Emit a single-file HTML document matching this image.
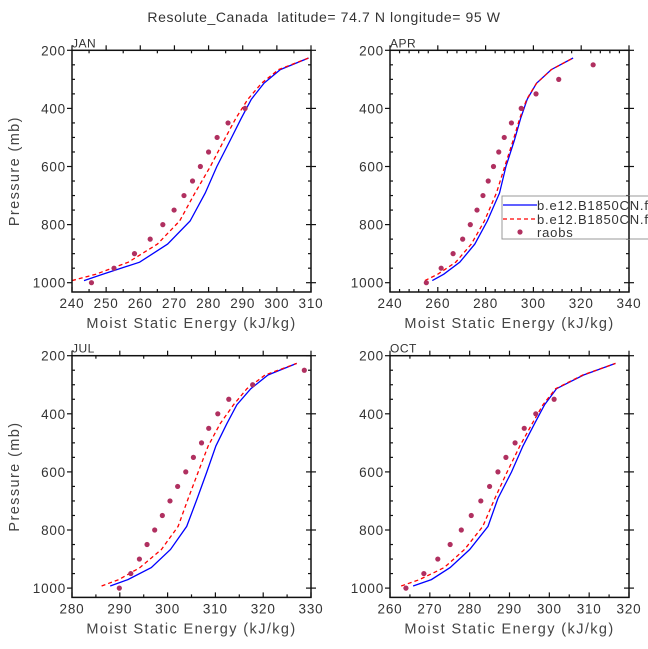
<!DOCTYPE html>
<html><head><meta charset="utf-8"><style>
html,body{margin:0;padding:0;background:#fff}
svg{display:block;font-family:"Liberation Sans",sans-serif}
</style></head><body>
<svg id="chart" width="648" height="649" viewBox="0 0 648 649" xmlns="http://www.w3.org/2000/svg">
<text x="324" y="22" text-anchor="middle" font-size="14" fill="#333" letter-spacing="0.6">Resolute_Canada&#160;&#160;latitude= 74.7 N longitude= 95 W</text>
<g id="panels"></g>
<g id="legend">
<rect x="502" y="196" width="160" height="43" fill="#fff" stroke="#999" stroke-width="1"/>
<line x1="503" y1="205" x2="537" y2="205" stroke="#0000ff" stroke-width="1.3"/>
<text x="537" y="210" font-size="13" fill="#333" letter-spacing="0.8">b.e12.B1850CN.f19</text>
<line x1="503" y1="219" x2="537" y2="219" stroke="#ff0000" stroke-width="1.3" stroke-dasharray="4,3"/>
<text x="537" y="224" font-size="13" fill="#333" letter-spacing="0.8">b.e12.B1850CN.f19</text>
<circle cx="520" cy="232" r="2.6" fill="#b03060"/>
<text x="537" y="237" font-size="13" fill="#333" letter-spacing="0.8">raobs</text>
</g>
</svg>
<script>
const modelLevels=[992.6,970.6,929.6,867.2,787.7,691.4,600.5,510.5,433.9,368.8,313.5,266.5,226.5];
const obsLevels=[1000,950,900,850,800,750,700,650,600,550,500,450,400,350,300,250];
const janBlue=[243.5,249,259.8,268,274.6,279,282.4,286.3,289.6,292.5,296.2,301,309.3];
const janRed=[240,247,256.5,265,271.5,276,280.5,284.5,288,291.5,295.5,300.5,309.3];
const janObs=[245.7,252.3,258.3,262.9,266.6,269.9,272.8,275.3,277.6,280,282.5,285.7,290.7];
const aprBlue=[257.7,262.5,269.2,275.5,280.7,285.8,288.5,292,294.7,297.4,301.3,307.5,316.6];
const aprRed=[254.6,260,267.5,274,279.5,284.5,288,291.5,294.3,297.2,301.3,307.5,316.6];
const aprObs=[255.2,261.4,266.4,270.4,273.6,276.4,278.9,281.1,283.3,285.5,287.8,290.8,294.9,301.1,310.6,325];
const julBlue=[288,291.7,296.6,300.6,304,306.2,308.2,310.1,312.4,314.5,317.4,321,327];
const julRed=[286.2,289.8,294.2,298.7,302.2,304.3,306.4,308.5,311,313.8,316.6,320.4,327];
const julObs=[289.9,292.3,294.1,295.7,297.3,298.9,300.5,302.1,303.8,305.4,307.1,308.6,310.5,312.8,317.8,328.6];
const octBlue=[265.8,270.4,275.1,280,284.6,287.1,290.5,293.4,296.3,298.8,301.8,308.6,316.6];
const octRed=[262.8,267.4,273.6,278.7,283.3,286.3,289.4,292.6,295.7,298.4,301.6,308.4,316.6];
const octObs=[264,268.5,272,275.1,277.9,280.4,282.8,285,287.1,289.1,291.4,293.7,296.6,301.2];
const xTicksJan=[240,250,260,270,280,290,300,310];
const xTicksApr=[240,260,280,300,320,340];
const xTicksJul=[280,290,300,310,320,330];
const xTicksOct=[260,270,280,290,300,310,320];
const yTicks=[200,400,600,800,1000];

const NS='http://www.w3.org/2000/svg';
const root=document.getElementById('panels');
function mk(tag,attrs,parent){const e=document.createElementNS(NS,tag);for(const k in attrs)e.setAttribute(k,attrs[k]);parent.appendChild(e);return e;}

const panels=[
 {id:'jan',label:'JAN',L:72,T:50.3,xt:xTicksJan,minor:2,blue:janBlue,red:janRed,obs:janObs,ytitle:true},
 {id:'apr',label:'APR',L:390,T:50.3,xt:xTicksApr,minor:5,blue:aprBlue,red:aprRed,obs:aprObs,ytitle:false},
 {id:'jul',label:'JUL',L:72,T:355.7,xt:xTicksJul,minor:2,blue:julBlue,red:julRed,obs:julObs,ytitle:true},
 {id:'oct',label:'OCT',L:390,T:355.7,xt:xTicksOct,minor:2,blue:octBlue,red:octRed,obs:octObs,ytitle:false}
];
const W=239, PMIN=200, PMAX=1032, SC=0.2905;
panels.forEach(p=>{
 const g=mk('g',{},root);
 
 
 const x0=p.xt[0], x1=p.xt[p.xt.length-1];
 const X=v=>p.L+(v-x0)/(x1-x0)*W;
 const Y=v=>p.T+(v-PMIN)*SC;
 const B=Y(PMAX), R=p.L+W;
 const clipId='clip-'+p.id;
 const cp=mk('clipPath',{id:clipId},g);
 mk('rect',{x:p.L,y:p.T,width:W,height:B-p.T},cp);
 const ser=mk('g',{'clip-path':'url(#'+clipId+')'},g);
 const pts=a=>a.map((v,i)=>X(v).toFixed(1)+','+Y(modelLevels[i]).toFixed(1)).join(' ');
 const bl=mk('polyline',{points:pts(p.blue),fill:'none',stroke:'#0000ff','stroke-width':1.3},ser);
 
 
 const rl=mk('polyline',{points:pts(p.red),fill:'none',stroke:'#ff0000','stroke-width':1.3,'stroke-dasharray':'4,3'},ser);
 
 
 p.obs.forEach((v,i)=>{
  const c=mk('circle',{cx:X(v),cy:Y(obsLevels[i]),r:2.6,fill:'#b03060'},ser);
  
  
 });
 const fr=mk('rect',{x:p.L,y:p.T,width:W,height:B-p.T,fill:'none',stroke:'#111','stroke-width':1.5},g);
 
 
 const tk=mk('g',{stroke:'#111','stroke-width':1.2},g);
 const step=p.xt[1]-p.xt[0], mstep=step/p.minor;
 for(let v=x0;v<=x1+1e-6;v+=mstep){
  const xx=X(v), major=Math.abs((v-x0)/step-Math.round((v-x0)/step))<1e-6;
  mk('line',{x1:xx,y1:B,x2:xx,y2:B-(major?5:3)},tk);
  if(major) mk('line',{x1:xx,y1:p.T,x2:xx,y2:p.T-5},tk);
  else mk('line',{x1:xx,y1:p.T,x2:xx,y2:p.T+3},tk);
 }
 p.xt.forEach(v=>{
  const t=mk('text',{x:X(v),y:B+16,'text-anchor':'middle','font-size':13.5,fill:'#333','letter-spacing':0.8},g);
  t.textContent=v;
  
  
 });
 for(let v=200;v<=1000;v+=50){
  const yy=Y(v), major=v%200===0;
  if(major){mk('line',{x1:p.L-5,y1:yy,x2:p.L,y2:yy},tk);mk('line',{x1:R,y1:yy,x2:R-5,y2:yy},tk);mk('line',{x1:R,y1:yy,x2:R+5,y2:yy},tk);}
  else{mk('line',{x1:p.L,y1:yy,x2:p.L+3,y2:yy},tk);mk('line',{x1:R,y1:yy,x2:R-3,y2:yy},tk);}
 }
 yTicks.forEach(v=>{
  const t=mk('text',{x:p.L-6,y:Y(v)+5,'text-anchor':'end','font-size':13.5,fill:'#333','letter-spacing':0.8},g);
  t.textContent=v;
  
  
 });
 const lb=mk('text',{x:p.L,y:p.T-3,'font-size':12,fill:'#333','letter-spacing':0.5},g);
 lb.textContent=p.label;
 
 
 const xt=mk('text',{x:p.L+W/2,y:B+36,'text-anchor':'middle','font-size':14.5,fill:'#444','letter-spacing':1.4},g);
 xt.textContent='Moist Static Energy (kJ/kg)';
 
 
 if(p.ytitle){
  const cy=(p.T+B)/2;
  const yt=mk('text',{x:19,y:cy,'text-anchor':'middle','font-size':14.5,fill:'#444','letter-spacing':1.4,transform:'rotate(-90 19 '+cy+')'},g);
  yt.textContent='Pressure (mb)';
  
  
 }
});
const svg=document.getElementById('chart');
svg.appendChild(document.getElementById('legend'));
const ax=mk('line',{x1:629,y1:196,x2:629,y2:239,stroke:'#111','stroke-width':1.5},svg);


</script>
</body></html>
